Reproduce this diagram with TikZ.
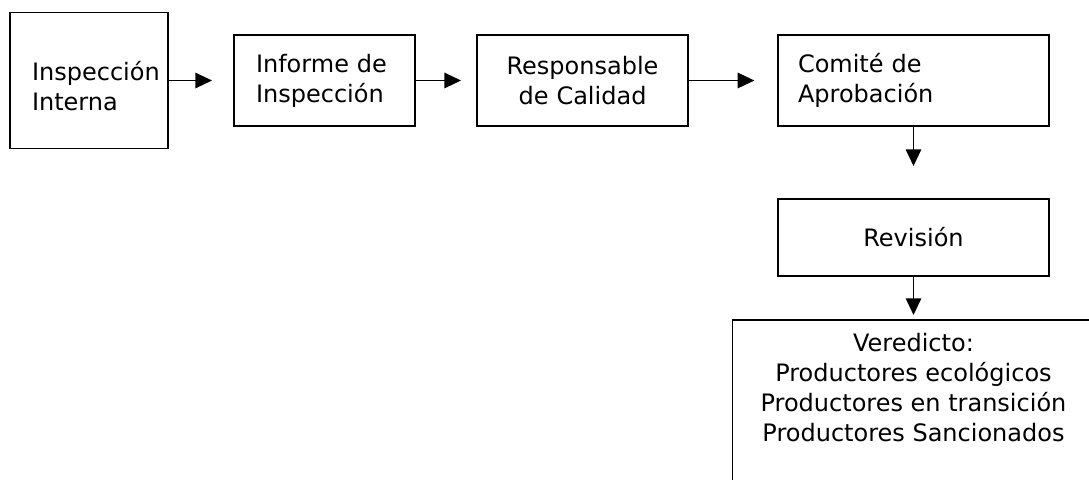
\documentclass[tikz,border=0pt]{standalone}
\usepackage{fontspec}
\setmainfont{DejaVu Sans}
\usetikzlibrary{arrows.meta}

\begin{document}
\begin{tikzpicture}[x=0.75pt, y=-0.75pt,
  etapa/.style={draw, line width=1.4pt, font=\fontsize{18}{22.5}\selectfont,
    inner xsep=16.5pt, minimum height=68.25pt},
  seta/.style={-{Triangle[length=12.5pt, width=11.5pt]}, line width=1.4pt}]
  \useasboundingbox (0,0) rectangle (1089,479);

  % Etapas
  \node[etapa, text width=85.5pt, align=left, minimum height=102pt] (interna) at (89,80.5) {\rule{0pt}{23pt}Inspección\\Interna};
  \node[etapa, text width=102.75pt, align=left] (informe) at (324.5,80.5) {Informe de\\Inspección};
  \node[etapa, text width=125.25pt, align=center] (responsable) at (582.5,80.5) {Responsable\\de Calidad};
  \node[etapa, inner xsep=15pt, text width=173.25pt, align=left] (comite) at (913.5,80.5) {Comité de\\Aprobación};
  \node[etapa, minimum width=203.25pt, minimum height=57.75pt, align=center] (revision) at (913.5,237.5) {Revisión};

  % Veredicto
  \node[etapa, anchor=north, minimum width=271.5pt, inner ysep=9.75pt, text depth=150pt, align=center] (veredicto) at (913.5,319)
    {Veredicto:\\Productores ecológicos\\Productores en transición\\Productores Sancionados};

  % Setas
  \draw[seta, shorten >=15.75pt] (interna) -- (informe);
  \draw[seta, shorten >=11.25pt] (informe) -- (responsable);
  \draw[seta, shorten >=17pt] (responsable) -- (comite);
  \draw[seta, shorten >=24pt] (comite) -- (revision);
  \draw[seta, shorten >=3pt] (revision) -- (veredicto.north);
\end{tikzpicture}
\end{document}
